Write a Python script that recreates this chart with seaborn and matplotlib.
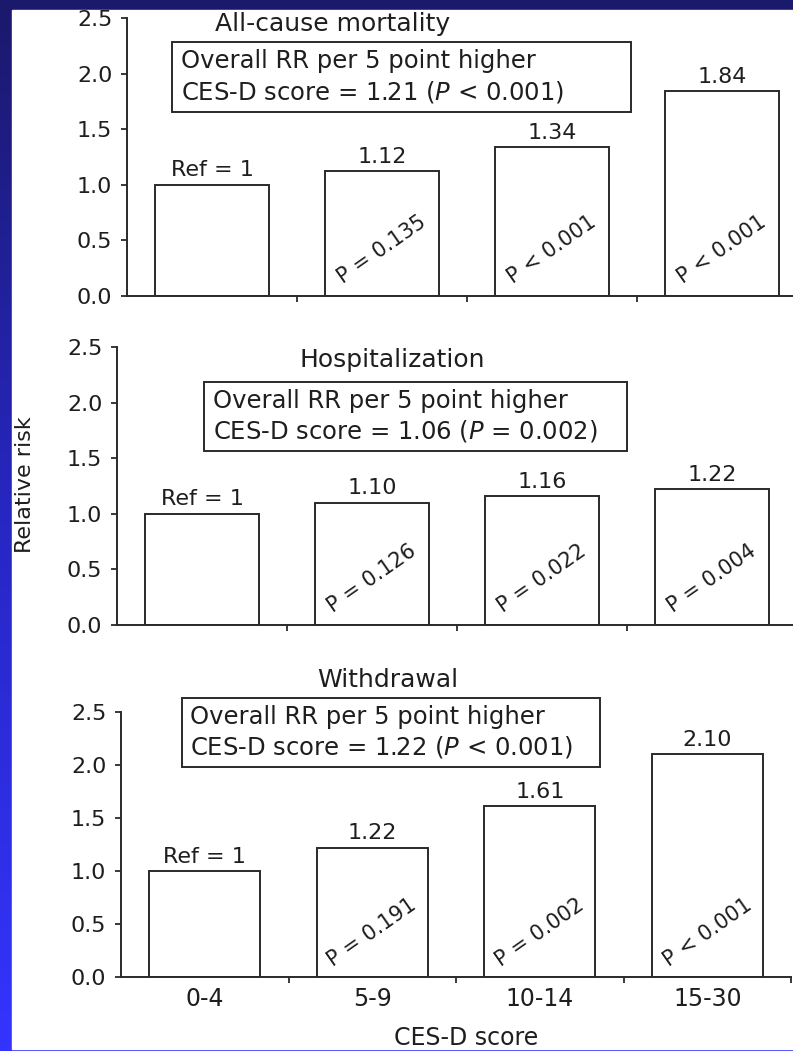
import numpy as np
import pandas as pd
import matplotlib
matplotlib.use("Agg")
import matplotlib.pyplot as plt
from matplotlib.colors import LinearSegmentedColormap
from matplotlib.patches import Rectangle
import seaborn as sns

# data
scores = ["0-4", "5-9", "10-14", "15-30"]
titles = ["All-cause mortality", "Hospitalization", "Withdrawal"]
rr_mortality = [1.00, 1.12, 1.34, 1.84]
rr_hospital = [1.00, 1.10, 1.16, 1.22]
rr_withdrawal = [1.00, 1.22, 1.61, 2.10]
p_mortality = ["", "P = 0.135", "P < 0.001", "P < 0.001"]
p_hospital = ["", "P = 0.126", "P = 0.022", "P = 0.004"]
p_withdrawal = ["", "P = 0.191", "P = 0.002", "P < 0.001"]
overall_rr = ["1.21", "1.06", "1.22"]
overall_p = ["< 0.001", "= 0.002", "< 0.001"]

W, H = 793, 1051
EDGE = "#2a2a2a"
TXT = "#1e1e1e"

sns.set_theme(style="ticks")
plt.rcParams["font.family"] = ["DejaVu Sans"]
plt.rcParams["mathtext.fontset"] = "dejavusans"
plt.rcParams["axes.edgecolor"] = EDGE
plt.rcParams["axes.linewidth"] = 1.4
plt.rcParams["xtick.color"] = EDGE
plt.rcParams["ytick.color"] = EDGE
plt.rcParams["xtick.labelcolor"] = TXT
plt.rcParams["ytick.labelcolor"] = TXT

fig = plt.figure(figsize=(W / 100, H / 100), dpi=100)

# blue slide background with white panel
bg = fig.add_axes([0, 0, 1, 1])
bg.set_zorder(-10)
bg.axis("off")
cmap = LinearSegmentedColormap.from_list("slide", ["#1b196b", "#2727c4", "#3434ff"])
bg.imshow(np.linspace(0, 1, 256)[:, None], aspect="auto", cmap=cmap,
          extent=[0, 1, 0, 1], origin="upper")
bg.add_patch(Rectangle((12 / W, 2 / H), 1 - 12 / W, 1039 / H, color="white"))
bg.set_xlim(0, 1)
bg.set_ylim(0, 1)

# panel geometry in pixels: axis left, category spacing, top (2.5), zero
panels = [(127, 170, 18, 296), (117, 170, 347, 625), (121, 167.5, 712, 977)]
series = [rr_mortality, rr_hospital, rr_withdrawal]
pvals = [p_mortality, p_hospital, p_withdrawal]
# title centre (x, y) and box (x0, x1, y0, y1) in data units
title_pos = [(0.71, 2.45), (1.12, 2.38), (1.09, 2.80)]
boxes = [(-0.235, 2.465, 1.655, 2.284), (0.012, 2.50, 1.565, 2.185),
         (-0.138, 2.36, 1.98, 2.63)]

for i, (left, sp, top, zero) in enumerate(panels):
    ax = fig.add_axes([left / W, 1 - zero / H, 4 * sp / W, (zero - top) / H])
    df = pd.DataFrame({"score": scores, "rr": series[i]})
    sns.barplot(data=df, x="score", y="rr", ax=ax, width=0.665,
                color="white", edgecolor=EDGE, linewidth=1.4, saturation=1)
    for patch in ax.patches:
        patch.set_facecolor("white")

    ax.set_xlim(-0.5, 3.5)
    ax.set_ylim(0, 2.5)
    ax.set_yticks(np.arange(0, 2.51, 0.5))
    ax.set_yticklabels([f"{v:.1f}" for v in np.arange(0, 2.51, 0.5)])
    ax.tick_params(axis="y", length=4.5, width=1.3, pad=6, labelsize=16)
    ax.set_xticks([0.5, 1.5, 2.5, 3.5])
    ax.set_xticklabels([])
    ax.tick_params(axis="x", which="major", length=4, width=1.3)
    ax.set_xticks([0, 1, 2, 3], minor=True)
    if i == 2:
        ax.set_xticklabels(scores, minor=True)
    else:
        ax.set_xticklabels([], minor=True)
    ax.tick_params(axis="x", which="minor", length=0, pad=7, labelsize=17)
    ax.set_xlabel("")
    ax.set_ylabel("")
    sns.despine(ax=ax)

    # bar value labels and rotated P values
    for j, v in enumerate(series[i]):
        lab = "Ref = 1" if j == 0 else f"{v:.2f}"
        ax.annotate(lab, (j, v), xytext=(0, 6), textcoords="offset points",
                    ha="center", va="baseline", fontsize=16, color=TXT)
        if pvals[i][j]:
            ax.text(j, 0.42, pvals[i][j], rotation=35, rotation_mode="anchor",
                    ha="center", va="center", fontsize=15, color=TXT)

    tx, ty = title_pos[i]
    ax.text(tx, ty, titles[i], ha="center", va="center", fontsize=18,
            color=TXT, clip_on=False)

    x0, x1, y0, y1 = boxes[i]
    ax.add_patch(Rectangle((x0, y0), x1 - x0, y1 - y0, fill=False,
                           edgecolor=EDGE, linewidth=1.4, clip_on=False))
    ax.text(x0 + 0.05, (y0 + y1) / 2,
            "Overall RR per 5 point higher\n"
            f"CES-D score = {overall_rr[i]} ($P$ {overall_p[i]})",
            ha="left", va="center", fontsize=17.5, linespacing=1.25,
            color=TXT, clip_on=False)

fig.text(25 / W, 1 - 485 / H, "Relative risk", rotation=90, ha="center",
         va="center", fontsize=16, color=TXT)
fig.text(466 / W, 1 - 1045 / H, "CES-D score", ha="center", va="baseline",
         fontsize=17, color=TXT)

fig.savefig("out.png", dpi=100)
